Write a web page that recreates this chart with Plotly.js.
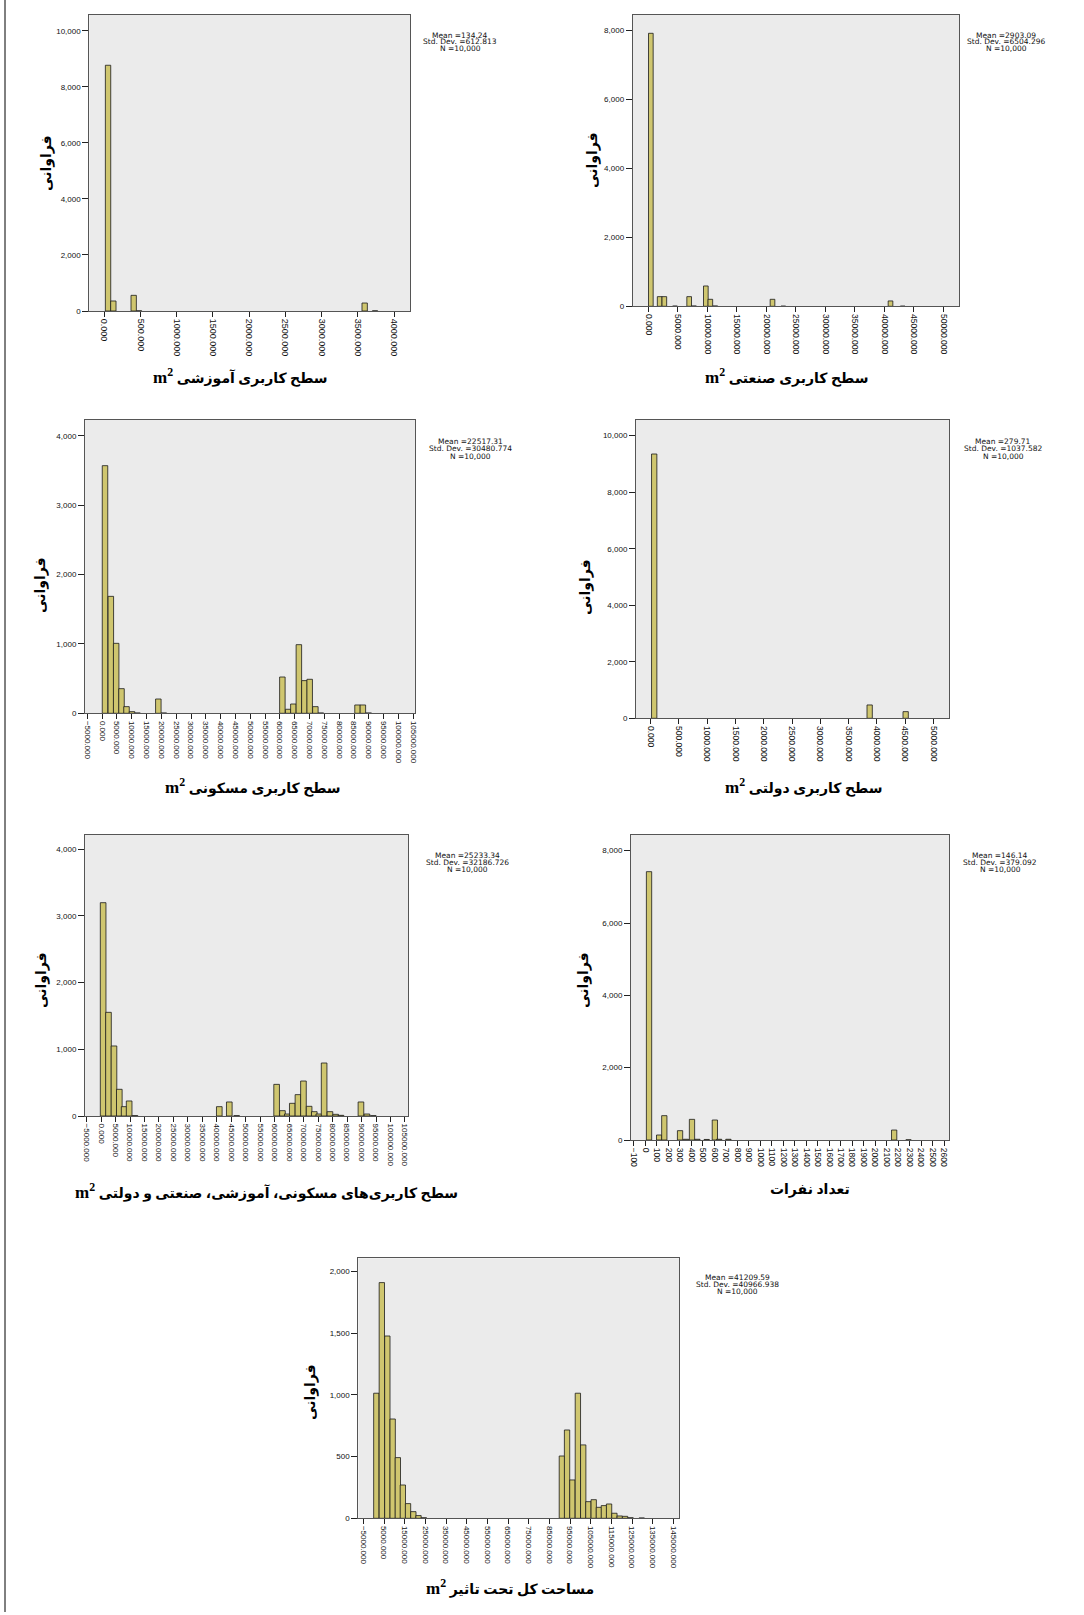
<!DOCTYPE html>
<html>
<head>
<meta charset="utf-8">
<script src="https://cdn.plot.ly/plotly-3.0.1.min.js"></script>
<style>
  html, body { margin: 0; padding: 0; background: #ffffff; }
  #chart { width: 1084px; height: 1615px; }
</style>
</head>
<body>
<div id="chart"></div>
<script>
// ---------- DATA (bin centres and frequencies) ----------
// Panel 1: educational land-use area
const eduBins   = [51, 124, 405, 479, 3595, 3738];
const eduCounts = [8775, 357, 559, 6, 285, 5];
const eduStats  = ["Mean =134.24", "Std. Dev. =612.813", "N =10,000"];

// Panel 2: industrial land-use area
const indBins   = [424, 1921, 2712, 4520, 6921, 7740, 9746, 10508, 11356, 21045, 22880, 41045, 43107];
const indCounts = [7913, 280, 280, 8, 280, 10, 589, 203, 10, 203, 5, 155, 5];
const indStats  = ["Mean =2903.09", "Std. Dev. =6504.296", "N =10,000"];

// Panel 3: residential land-use area
const resBins   = [962, 2930, 4730, 6529, 8216, 10072, 11928, 18957, 20813, 60798, 62766, 64509, 66365, 68221, 70020, 71932, 73788, 86160, 87960, 89928];
const resCounts = [3568, 1685, 1008, 355, 96, 24, 5, 206, 5, 523, 58, 134, 989, 471, 490, 96, 5, 120, 120, 5];
const resStats  = ["Mean =22517.31", "Std. Dev. =30480.774", "N =10,000"];

// Panel 4: governmental land-use area
const govBins   = [62, 3874, 4511];
const govCounts = [9351, 472, 236];
const govStats  = ["Mean =279.71", "Std. Dev. =1037.582", "N =10,000"];

// Panel 5: residential, educational, industrial and governmental
const allBins   = [700, 2546, 4446, 6289, 7959, 9687, 11702, 40843, 44299, 46833, 60654, 62670, 64340, 66068, 68026, 69926, 71884, 73670, 75225, 77068, 79083, 81041, 82884, 89795, 91868, 94057];
const allCounts = [3196, 1553, 1049, 400, 140, 225, 5, 140, 210, 5, 474, 80, 30, 190, 320, 524, 145, 65, 30, 794, 65, 25, 10, 210, 30, 5];
const allStats  = ["Mean =25233.34", "Std. Dev. =32186.726", "N =10,000"];

// Panel 6: number of people
const popBins   = [31, 119, 164, 301, 353, 405, 452, 533, 604, 641, 722, 2165, 2290];
const popCounts = [7419, 138, 673, 258, 20, 571, 20, 15, 553, 20, 20, 276, 5];
const popStats  = ["Mean =146.14", "Std. Dev. =379.092", "N =10,000"];

// Panel 7: total affected area
const totBins   = [1290, 3952, 6613, 9194, 11694, 14113, 16613, 19194, 21694, 24274, 91048, 93548, 96129, 98790, 101371, 103871, 106452, 108952, 111371, 113871, 116452, 119032, 121613, 124274, 129677];
const totCounts = [1014, 1911, 1478, 805, 492, 270, 119, 54, 22, 5, 505, 716, 311, 1014, 595, 135, 151, 89, 103, 116, 41, 19, 16, 5, 3];
const totStats  = ["Mean =41209.59", "Std. Dev. =40966.938", "N =10,000"];

// Text
const yTitle = "فراوانی";
const xTitles = [
  "سطح کاربری آموزشی",
  "سطح کاربری صنعتی",
  "سطح کاربری مسکونی",
  "سطح کاربری دولتی",
  "سطح کاربری‌های مسکونی، آموزشی، صنعتی و دولتی",
  "تعداد نفرات",
  "مساحت کل تحت تاثیر"
];
const xTitleUnit = [true, true, true, true, true, false, true];

// ---------- LAYOUT CONFIG ----------
const W = 1084, H = 1615;
const panels = [
  {bins: eduBins, counts: eduCounts, stats: eduStats, barW: 74,
   box: [89.3, 14.7, 410, 311], xr: [-208, 4221], yr: [0, 10580],
   tick0: 0, dtick: 500, fmt: '.3f', ydtick: 2000, xfs: 9,
   stat: [460, 35], ytl: [46, 163], xtl: [240, 376]},
  {bins: indBins, counts: indCounts, stats: indStats, barW: 790,
   box: [632.7, 14.7, 959, 306.3], xr: [-2650, 52655], yr: [0, 8452],
   tick0: 0, dtick: 5000, fmt: '.3f', ydtick: 2000, xfs: 8.5,
   stat: [1006, 35], ytl: [592, 160], xtl: [786, 376]},
  {bins: resBins, counts: resCounts, stats: resStats, barW: 1856,
   box: [85, 420, 415.3, 713.3], xr: [-5787, 105650], yr: [0, 4226],
   tick0: 0, dtick: 5000, fmt: '.3f', ydtick: 1000, xfs: 8,
   stat: [470, 442], ytl: [41, 585], xtl: [253, 786]},
  {bins: govBins, counts: govCounts, stats: govStats, barW: 94,
   box: [636, 420, 949.3, 718.3], xr: [-260, 5283], yr: [0, 10554],
   tick0: 0, dtick: 500, fmt: '.3f', ydtick: 2000, xfs: 8.5,
   stat: [1003, 442], ytl: [585, 587], xtl: [804, 786]},
  {bins: allBins, counts: allCounts, stats: allStats, barW: 1950,
   box: [85, 835, 408.3, 1116], xr: [-5569, 106160], yr: [0, 4210],
   tick0: 0, dtick: 5000, fmt: '.3f', ydtick: 1000, xfs: 8,
   stat: [467, 855], ytl: [41, 980], xtl: [266, 1191]},
  {bins: popBins, counts: popCounts, stats: popStats, barW: 46,
   box: [631, 835, 949.3, 1140], xr: [-126, 2645], yr: [0, 8433],
   tick0: 0, dtick: 100, fmt: 'd', ydtick: 2000, xfs: 8.5,
   stat: [1000, 855], ytl: [583, 980], xtl: [810, 1190]},
  {bins: totBins, counts: totCounts, stats: totStats, barW: 2580,
   box: [358.3, 1258.3, 679.3, 1518.3], xr: [-7436, 147855], yr: [0, 2108],
   tick0: -5000, dtick: 10000, fmt: '.3f', ydtick: 500, xfs: 8,
   stat: [737, 1277], ytl: [310, 1392], xtl: [510, 1587]}
];

const sansFont = 'Liberation Sans, Arial, sans-serif';
const yTickFont = {family: sansFont, size: 8, color: '#111'};
const arabicFont = 'DejaVu Sans, sans-serif';

const traces = [];
const layout = {
  width: W, height: H, autosize: false,
  margin: {l: 0, r: 0, t: 0, b: 0, pad: 0},
  paper_bgcolor: '#ffffff',
  plot_bgcolor: '#ebebeb',
  showlegend: false,
  hovermode: false,
  annotations: [],
  shapes: [
    {type: 'line', xref: 'paper', yref: 'paper', x0: 5 / W, x1: 5 / W, y0: 1 - 1612 / H, y1: 1,
     line: {color: '#000', width: 1}}
  ]
};

panels.forEach((p, i) => {
  const n = i + 1;
  const xa = 'xaxis' + (n === 1 ? '' : n);
  const ya = 'yaxis' + (n === 1 ? '' : n);
  traces.push({
    type: 'bar',
    x: p.bins,
    y: p.counts,
    width: p.bins.map(() => p.barW),
    xaxis: 'x' + n,
    yaxis: 'y' + n,
    marker: {color: '#cfc66f', line: {color: '#1a1a1a', width: 0.8}},
    hoverinfo: 'skip'
  });
  const [x0, y0, x1, y1] = p.box;
  layout[xa] = {
    domain: [x0 / W, x1 / W],
    range: p.xr,
    anchor: 'y' + n,
    showgrid: false, zeroline: false,
    showline: true, mirror: true, linecolor: '#555', linewidth: 1,
    ticks: 'outside', ticklen: 5, tickwidth: 1, tickcolor: '#222',
    tickmode: 'linear', tick0: p.tick0, dtick: p.dtick,
    tickformat: p.fmt, tickangle: 90,
    tickfont: {family: sansFont, size: p.xfs, color: '#111'}, fixedrange: true
  };
  layout[ya] = {
    domain: [1 - y1 / H, 1 - y0 / H],
    range: p.yr,
    anchor: 'x' + n,
    showgrid: false, zeroline: false,
    showline: true, mirror: true, linecolor: '#555', linewidth: 1,
    ticks: 'outside', ticklen: 6, tickwidth: 1, tickcolor: '#222',
    tickmode: 'linear', tick0: 0, dtick: p.ydtick,
    tickformat: ',d',
    tickfont: yTickFont, fixedrange: true
  };
  // statistics box: one annotation per line, tight line spacing as in the reference
  p.stats.forEach((s, k) => {
    layout.annotations.push({
      xref: 'paper', yref: 'paper',
      x: p.stat[0] / W, y: 1 - (p.stat[1] + k * 7) / H,
      xanchor: 'center', yanchor: 'middle',
      text: s, showarrow: false, align: 'center',
      font: {family: 'DejaVu Sans, sans-serif', size: 7.5, color: '#111'}
    });
  });
  // y-axis title
  layout.annotations.push({
    xref: 'paper', yref: 'paper',
    x: p.ytl[0] / W, y: 1 - p.ytl[1] / H,
    xanchor: 'center', yanchor: 'middle',
    text: '<b>' + yTitle + '</b>', textangle: -90, showarrow: false,
    font: {family: arabicFont, size: 14, color: '#000'}
  });
  // x-axis title
  const unit = '<span style="font-size:17px">m<sup>2</sup></span> ';
  const t = xTitleUnit[i] ? unit + xTitles[i] : xTitles[i];
  layout.annotations.push({
    xref: 'paper', yref: 'paper',
    x: p.xtl[0] / W, y: 1 - p.xtl[1] / H,
    xanchor: 'center', yanchor: 'middle',
    text: '<b>' + t + '</b>', showarrow: false,
    font: {family: 'Liberation Serif, ' + arabicFont, size: 14, color: '#000'}
  });
});

Plotly.newPlot('chart', traces, layout, {staticPlot: true, displayModeBar: false});
</script>
</body>
</html>
